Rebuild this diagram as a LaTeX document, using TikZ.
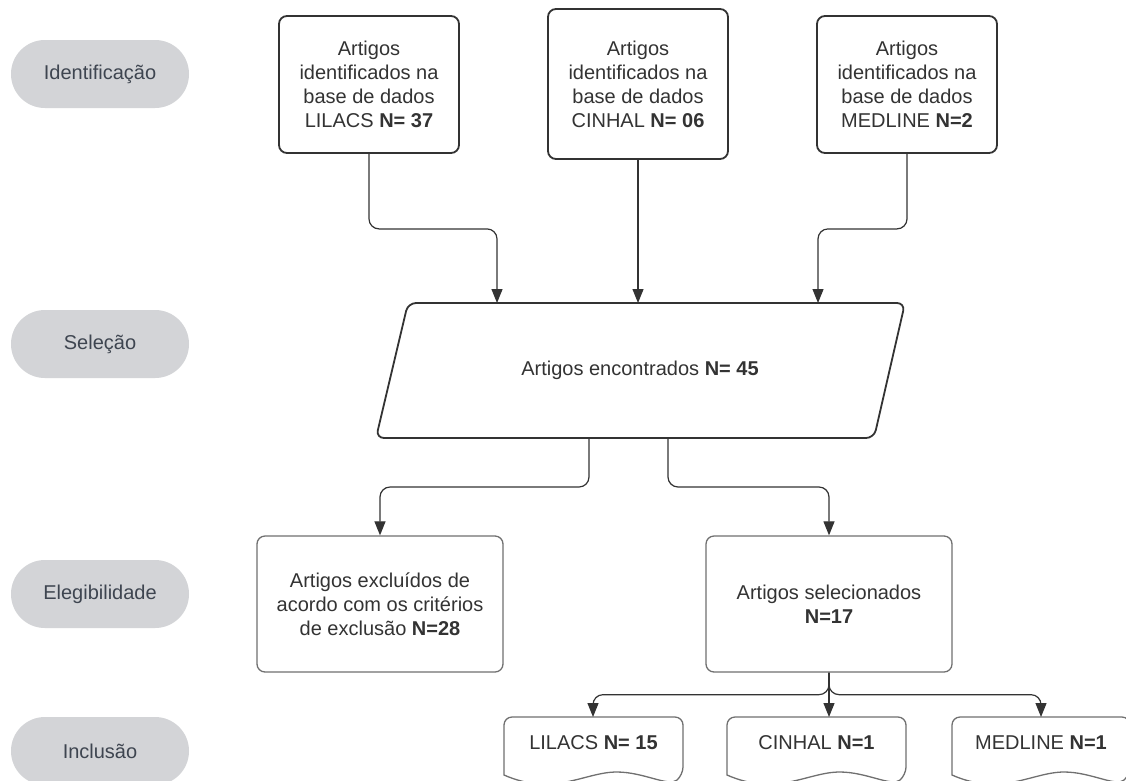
\documentclass[tikz,border=0pt]{standalone}
\usepackage{fontspec}
\setmainfont{Liberation Sans}
\usetikzlibrary{arrows.meta,calc}
\definecolor{pillfill}{HTML}{D3D4D7}
\definecolor{pilltext}{HTML}{3E4550}
\definecolor{darkline}{HTML}{333333}
\definecolor{midline}{HTML}{707070}
\definecolor{txt}{HTML}{333333}
\newcommand{\docpath}[2]{%
  \draw[docshape] (#1,775) [rounded corners=8pt] -- (#1,717) -- (#2,717) -- (#2,775) [sharp corners]
    .. controls ({#2-0.08*(#2-#1)},787) and ({#1+0.78*(#2-#1)},772) .. ({#1+0.63*(#2-#1)},772)
    .. controls ({#1+0.45*(#2-#1)},772) and ({#1+0.28*(#2-#1)},797) .. (#1,775) -- cycle;}
\begin{document}
\begin{tikzpicture}[x=1pt,y=-1pt,
  pill/.style={fill=pillfill, rounded corners=33.9pt, minimum width=178pt, minimum height=68pt,
    text=pilltext, font=\fontsize{20}{24}\selectfont, inner sep=0pt},
  topbox/.style={draw=darkline, line width=1.8pt, rounded corners=8pt, minimum width=180pt,
    align=center, text=txt, font=\fontsize{20}{24}\selectfont, inner sep=0pt},
  lowbox/.style={draw=midline, line width=1.3pt, rounded corners=8pt, minimum width=246pt,
    minimum height=136pt, align=center, text=txt, font=\fontsize{20}{24}\selectfont, inner sep=0pt},
  para/.style={draw=darkline, line width=1.8pt, rounded corners=8pt},
  docshape/.style={draw=midline, line width=1.3pt, fill=white},
  plain/.style={align=center, text=txt, font=\fontsize{20}{24}\selectfont, inner sep=0pt},
  conn/.style={draw=darkline, line width=1.2pt, rounded corners=10pt,
    -{Triangle[length=14pt,width=11pt]}}
]
\useasboundingbox (0,0) rectangle (1126,780);
\clip (0,0) rectangle (1126,780);
\fill[white] (0,0) rectangle (1126,780);

% phase labels
\node[pill] (ph1) at (100,74) {Identificação};
\node[pill] (ph2) at (100,344) {Seleção};
\node[pill] (ph3) at (100,594) {Elegibilidade};
\node[pill] (ph4) at (100,751) {Inclusão};

% top boxes
\node[topbox, minimum height=137pt] (b1) at (369,84.5) {Artigos\\identificados na\\base de dados\\LILACS \textbf{N= 37}};
\node[topbox, minimum height=150pt] (b2) at (638,84) {Artigos\\identificados na\\base de dados\\CINHAL \textbf{N= 06}};
\node[topbox, minimum height=137pt] (b3) at (907,84.5) {Artigos\\identificados na\\base de dados\\MEDLINE \textbf{N=2}};

% parallelogram
\draw[para] (408,303) -- (905,303) -- (874,438) -- (376,438) -- cycle;
\node[plain] (p) at (640,370) {Artigos encontrados \textbf{N= 45}};
\coordinate (pa1) at (497,303);
\coordinate (pa2) at (638,303);
\coordinate (pa3) at (818,303);
\coordinate (pb1) at (589,438);
\coordinate (pb2) at (668,438);

% lower boxes
\node[lowbox] (ex) at (380,604) {Artigos excluídos de\\acordo com os critérios\\de exclusão \textbf{N=28}};
\node[lowbox] (sel) at (829,604) {Artigos selecionados\\\textbf{N=17}};

% documents
\docpath{504}{683}
\docpath{727}{906}
\docpath{952}{1130}
\node[plain] (d1) at (593.5,743) {LILACS \textbf{N= 15}};
\node[plain] (d2) at (816.5,743) {CINHAL \textbf{N=1}};
\node[plain] (d3) at (1041,743) {MEDLINE \textbf{N=1}};
\coordinate (dt1) at (593,717);
\coordinate (dt2) at (829,717);
\coordinate (dt3) at (1041,717);

% connectors
\draw[conn] (b1.south) -- ++(0,75) -| (pa1);
\draw[conn] (b2.south) -- (pa2);
\draw[conn] (b3.south) -- ++(0,75) -| (pa3);
\draw[conn] (pb1) -- ++(0,49) -| (ex.north);
\draw[conn] (pb2) -- ++(0,49) -| (sel.north);
\draw[conn] (sel.south) -- ++(0,22) -| (dt1);
\draw[conn] (sel.south) -- (dt2);
\draw[conn] (sel.south) -- ++(0,22) -| (dt3);
\end{tikzpicture}
\end{document}
